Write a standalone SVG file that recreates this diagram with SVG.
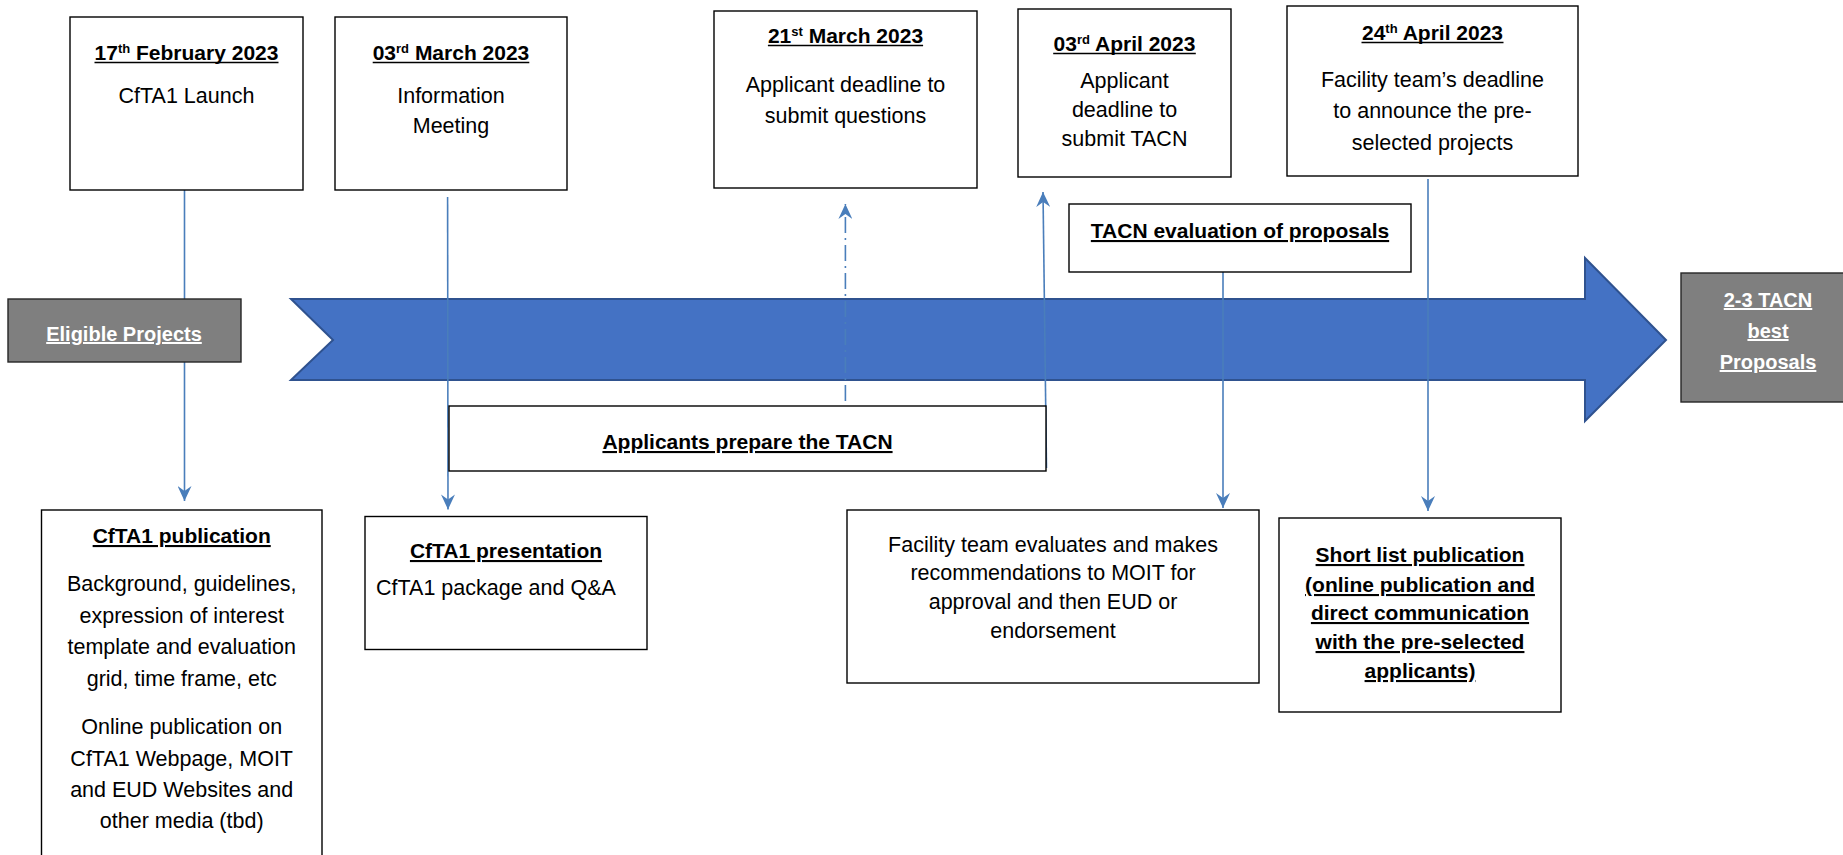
<svg xmlns="http://www.w3.org/2000/svg" width="1843" height="855" viewBox="0 0 1843 855">
<style>
text{font-family:"Liberation Sans",Arial,sans-serif;fill:#000;text-anchor:middle}
.b{font-weight:bold;font-size:21px;text-decoration:underline}
.d{font-weight:bold;font-size:21px}
.r{font-size:21.5px}
.w{fill:#fff;font-weight:bold;font-size:20px;text-decoration:underline}
.sup{font-size:13px}
.ul{stroke:#000;stroke-width:1.5}
.box{fill:#fff;stroke:#000;stroke-width:1.4}
.gbox{fill:#7f7f7f;stroke:#262626;stroke-width:1.4}
.con{fill:none;stroke:#4a7ebb;stroke-width:1.6}
</style>
<defs>
<marker id="ah" viewBox="0 0 15 14" refX="15" refY="7" markerWidth="15" markerHeight="14" orient="auto" markerUnits="userSpaceOnUse">
<path d="M0,0 L15,7 L0,14 L5,7 Z" fill="#4a7ebb"/>
</marker>
</defs>

<g id="timeline-arrow">
<polygon points="291,299 1585,299 1585,258 1666,340 1585,421 1585,380 291,380 333,340" fill="#4472c4" stroke="#2f528f" stroke-width="2"/>
</g>

<g id="connectors">
<line class="con" x1="184.5" y1="190" x2="184.5" y2="501" marker-end="url(#ah)"/>
<line class="con" x1="447.6" y1="197" x2="448" y2="509.5" marker-end="url(#ah)"/>
<line class="con" x1="845.4" y1="401" x2="845.4" y2="204" stroke-dasharray="16 5 2 5" marker-end="url(#ah)"/>
<line class="con" x1="1046.5" y1="468" x2="1043" y2="192" marker-end="url(#ah)"/>
<line class="con" x1="1223" y1="272" x2="1223" y2="508" marker-end="url(#ah)"/>
<line class="con" x1="1428" y1="179" x2="1428" y2="511" marker-end="url(#ah)"/>
</g>

<g id="n-feb17">
<rect class="box" x="70" y="17" width="233" height="173"/>
<text class="d" x="186.5" y="60">17<tspan class="sup" baseline-shift="super">th</tspan> February 2023</text>
<line class="ul" x1="94.5" y1="62.5" x2="278.5" y2="62.5"/>
<text class="r" x="186.5" y="103">CfTA1 Launch</text>
</g>

<g id="n-mar03">
<rect class="box" x="335" y="17" width="232" height="173"/>
<text class="d" x="451" y="60">03<tspan class="sup" baseline-shift="super">rd</tspan> March 2023</text>
<line class="ul" x1="372.7" y1="62.5" x2="529.3" y2="62.5"/>
<text class="r" x="451" y="103">Information</text>
<text class="r" x="451" y="133">Meeting</text>
</g>

<g id="n-mar21">
<rect class="box" x="714" y="11" width="263" height="177"/>
<text class="d" x="845.5" y="43">21<tspan class="sup" baseline-shift="super">st</tspan> March 2023</text>
<line class="ul" x1="767.9" y1="45.5" x2="923.1" y2="45.5"/>
<text class="r" x="845.5" y="92">Applicant deadline to</text>
<text class="r" x="845.5" y="123">submit questions</text>
</g>

<g id="n-apr03">
<rect class="box" x="1018" y="9" width="213" height="168"/>
<text class="d" x="1124.5" y="51">03<tspan class="sup" baseline-shift="super">rd</tspan> April 2023</text>
<line class="ul" x1="1053.2" y1="53.5" x2="1195.8" y2="53.5"/>
<text class="r" x="1124.5" y="88">Applicant</text>
<text class="r" x="1124.5" y="117">deadline to</text>
<text class="r" x="1124.5" y="146">submit TACN</text>
</g>

<g id="n-apr24">
<rect class="box" x="1287" y="6" width="291" height="170"/>
<text class="d" x="1432.5" y="40">24<tspan class="sup" baseline-shift="super">th</tspan> April 2023</text>
<line class="ul" x1="1361.5" y1="42.5" x2="1503.5" y2="42.5"/>
<text class="r" x="1432.5" y="87">Facility team’s deadline</text>
<text class="r" x="1432.5" y="118">to announce the pre-</text>
<text class="r" x="1432.5" y="150">selected projects</text>
</g>

<g id="n-eval">
<rect class="box" x="1069" y="204" width="342" height="68"/>
<text class="b" x="1240" y="238">TACN evaluation of proposals</text>
</g>

<g id="n-eligible">
<rect class="gbox" x="8" y="299" width="233" height="63"/>
<text class="w" x="124" y="341">Eligible Projects</text>
</g>

<g id="n-best">
<rect class="gbox" x="1681" y="273" width="170" height="129"/>
<text class="w" x="1768" y="307">2-3 TACN</text>
<text class="w" x="1768" y="338">best</text>
<text class="w" x="1768" y="369">Proposals</text>
</g>

<g id="n-prepare">
<rect class="box" x="449" y="406" width="597" height="65"/>
<text class="b" x="747.5" y="449">Applicants prepare the TACN</text>
</g>

<g id="n-publication">
<rect class="box" x="41.5" y="510" width="280.5" height="360"/>
<text class="b" x="181.7" y="543">CfTA1 publication</text>
<text class="r" x="181.7" y="591">Background, guidelines,</text>
<text class="r" x="181.7" y="623">expression of interest</text>
<text class="r" x="181.7" y="654">template and evaluation</text>
<text class="r" x="181.7" y="686">grid, time frame, etc</text>
<text class="r" x="181.7" y="734">Online publication on</text>
<text class="r" x="181.7" y="766">CfTA1 Webpage, MOIT</text>
<text class="r" x="181.7" y="797">and EUD Websites and</text>
<text class="r" x="181.7" y="828">other media (tbd)</text>
</g>

<g id="n-presentation">
<rect class="box" x="365" y="516.5" width="282" height="133"/>
<text class="b" x="506" y="558">CfTA1 presentation</text>
<text class="r" x="376" y="595" style="text-anchor:start">CfTA1 package and Q&amp;A</text>
</g>

<g id="n-facility">
<rect class="box" x="847" y="510" width="412" height="173"/>
<text class="r" x="1053" y="552">Facility team evaluates and makes</text>
<text class="r" x="1053" y="580">recommendations to MOIT for</text>
<text class="r" x="1053" y="609">approval and then EUD or</text>
<text class="r" x="1053" y="638">endorsement</text>
</g>

<g id="n-shortlist">
<rect class="box" x="1279" y="518" width="282" height="194"/>
<text class="b" x="1420" y="562">Short list publication</text>
<text class="b" x="1420" y="592">(online publication and</text>
<text class="b" x="1420" y="620">direct communication</text>
<text class="b" x="1420" y="649">with the pre-selected</text>
<text class="b" x="1420" y="678">applicants)</text>
</g>
</svg>
